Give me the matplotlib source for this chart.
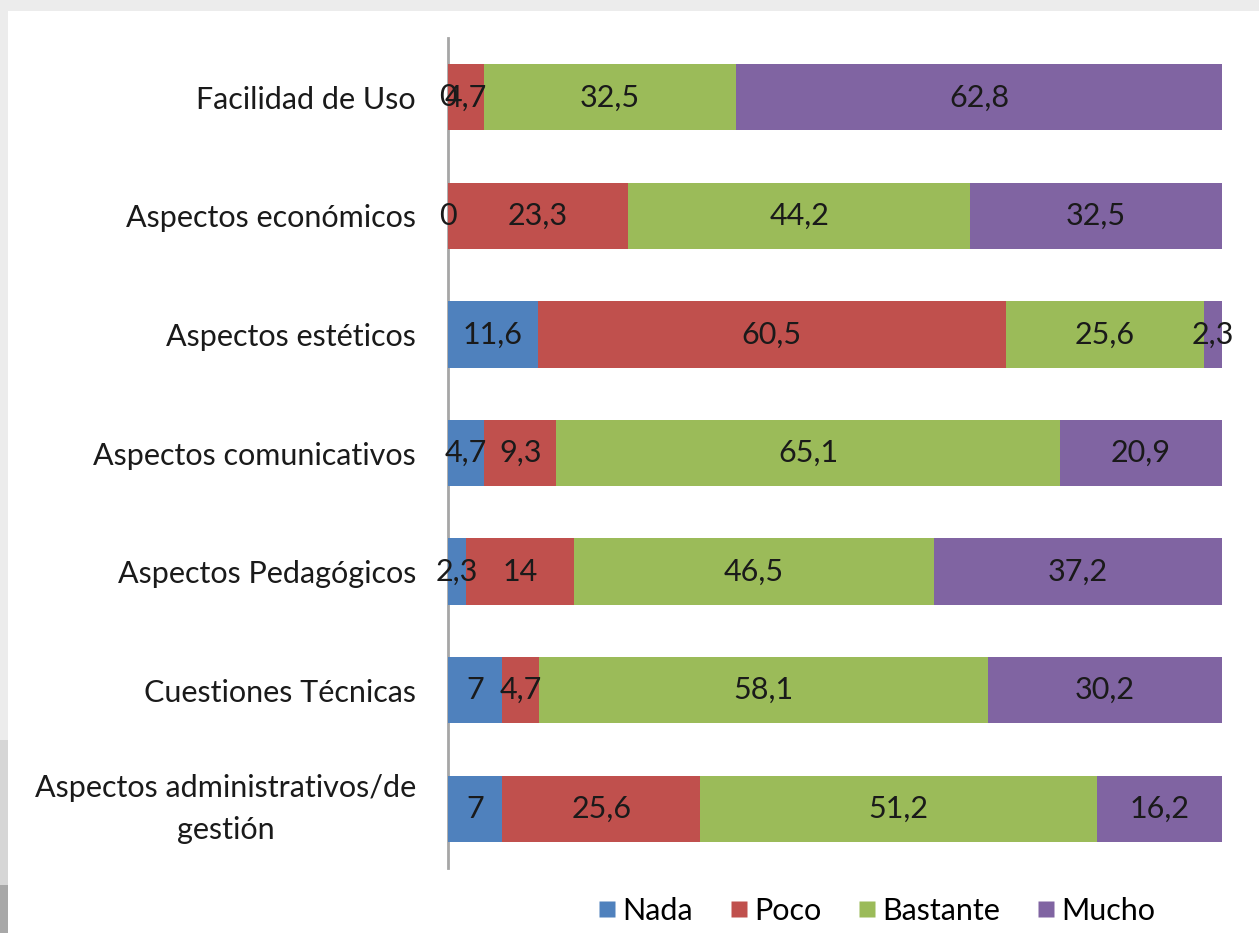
import matplotlib
matplotlib.use("Agg")
import matplotlib.pyplot as plt
from matplotlib.patches import Rectangle
from matplotlib.lines import Line2D

categories = ["Facilidad de Uso", "Aspectos económicos", "Aspectos estéticos",
              "Aspectos comunicativos", "Aspectos Pedagógicos", "Cuestiones Técnicas",
              "Aspectos administrativos/de\ngestión"]
series_names = ["Nada", "Poco", "Bastante", "Mucho"]
nada = [0, 0, 11.6, 4.7, 2.3, 7, 7]
poco = [4.7, 23.3, 60.5, 9.3, 14, 4.7, 25.6]
bastante = [32.5, 44.2, 25.6, 65.1, 46.5, 58.1, 51.2]
mucho = [62.8, 32.5, 2.3, 20.9, 37.2, 30.2, 16.2]
colors = ["#4f81bd", "#c0504d", "#9bbb59", "#8064a2"]

plt.rcParams['font.family'] = ['Lato', 'DejaVu Sans']
FS = 22

W, H = 1259, 933
fig = plt.figure(figsize=(W / 100, H / 100), dpi=100, facecolor="#ececec")
fig.patches.append(Rectangle((8 / W, 0), 1 - 8 / W, 1 - 11 / H, transform=fig.transFigure,
                             facecolor="white", edgecolor="none", zorder=-10))
fig.patches.append(Rectangle((0, 0), 8 / W, (933 - 740) / H, transform=fig.transFigure,
                             facecolor="#d6d6d6", edgecolor="none", zorder=-10))
fig.patches.append(Rectangle((0, 0), 8 / W, (933 - 885) / H, transform=fig.transFigure,
                             facecolor="#a8a8a8", edgecolor="none", zorder=-10))

ax = fig.add_axes([448 / W, 1 - 868 / H, (1222 - 448) / W, (868 - 38) / H])
ax.set_facecolor("none")
ax.set_zorder(1)

series = [nada, poco, bastante, mucho]
ypos = list(range(len(categories)))
left = [0.0] * len(categories)
for name, vals, col in zip(series_names, series, colors):
    bars = ax.barh(ypos, vals, left=left, height=0.56, color=col, label=name,
                   edgecolor="none")
    labels = [("%g" % v).replace(".", ",") for v in vals]
    ax.bar_label(bars, labels=labels, label_type="center", fontsize=FS, color="#1a1a1a")
    left = [l + v for l, v in zip(left, vals)]

total = [sum(v) for v in zip(*series)]
ax.set_xlim(0, max(total))
ax.set_ylim(len(categories) - 0.5, -0.5)
ax.set_yticks(ypos)
ax.set_yticklabels(categories, fontsize=FS, color="#1a1a1a")
for t in ax.get_yticklabels():
    if "\n" in t.get_text():
        t.set_multialignment("center")
        t.set_linespacing(1.6)
        t.set_verticalalignment("center")
ax.tick_params(axis="y", length=0, pad=23)
ax.set_xticks([])
for s in ["top", "right", "bottom"]:
    ax.spines[s].set_visible(False)
ax.spines["left"].set_color("#a6a6a6")
ax.spines["left"].set_linewidth(2)
ax.spines["left"].set_zorder(0.5)

handles = [Line2D([], [], marker="s", linestyle="none", markersize=11,
                  markerfacecolor=c, markeredgecolor="none") for c in colors]
fig.legend(handles, series_names, loc="center", bbox_to_anchor=(875 / W, 1 - 911 / H),
           ncol=4, frameon=False, fontsize=FS, handletextpad=0.1, columnspacing=1.1,
           handlelength=0.8)

fig.savefig("out.png", dpi=100, facecolor=fig.get_facecolor())
